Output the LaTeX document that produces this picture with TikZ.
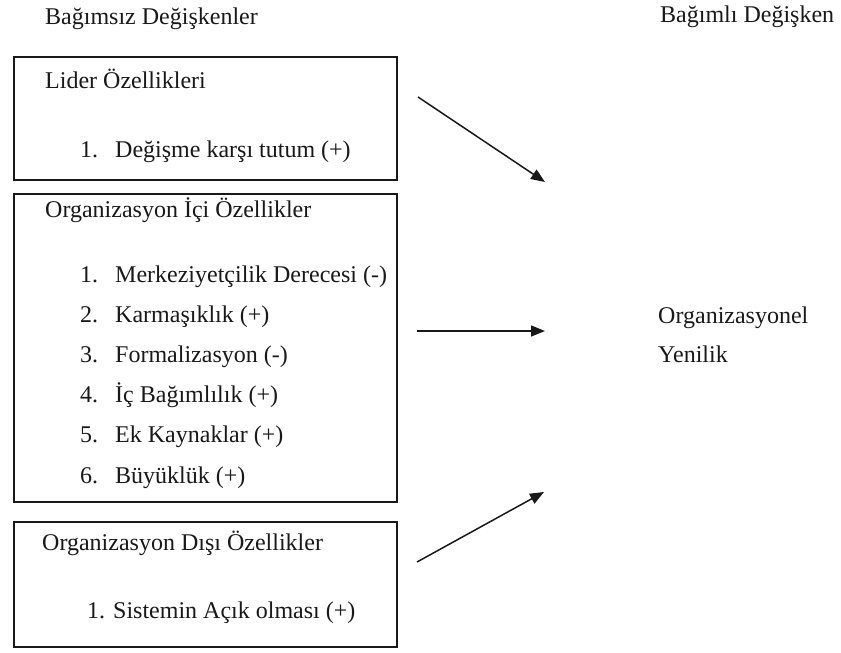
\documentclass[tikz,border=0pt]{standalone}
\usepackage{fontspec}
\setmainfont{Liberation Serif}
\usetikzlibrary{arrows.meta}
\begin{document}
\begin{tikzpicture}[x=1pt,y=-1pt,
  txt/.style={anchor=base west,inner sep=0pt,font=\fontsize{24}{28}\selectfont,text=black!90},
  groupbox/.style={draw=black!90,line width=1.9pt},
  link/.style={line width=1.5pt,draw=black!90,-{Triangle[length=14pt,width=11pt]}}]
  \useasboundingbox[fill=white] (0,0) rectangle (841,653);

  % column headings
  \node[txt] (indep) at (45,24) {Bağımsız Değişkenler};
  \node[txt] (dep) at (660,23) {Bağımlı Değişken};

  % leader characteristics
  \draw[groupbox] (14,57) rectangle (397,180);
  \node[txt] (lider) at (45,88) {Lider Özellikleri};
  \node[txt] (l1n) at (80,157) {1.};
  \node[txt] (l1) at (115,157) {Değişme karşı tutum (+)};

  % internal characteristics
  \draw[groupbox] (14,194) rectangle (397,502);
  \node[txt] (ici) at (45,217) {Organizasyon İçi Özellikler};
  \foreach \n/\t [count=\i] in {1./Merkeziyetçilik Derecesi (-),
      2./Karmaşıklık (+), 3./Formalizasyon (-), 4./İç Bağımlılık (+),
      5./Ek Kaynaklar (+), 6./Büyüklük (+)} {
    \node[txt] (i\i n) at (80,{282+40.2*(\i-1)}) {\n};
    \node[txt] (i\i) at (115,{282+40.2*(\i-1)}) {\t};
  }

  % external characteristics
  \draw[groupbox] (14,522) rectangle (397,647);
  \node[txt] (disi) at (42,550) {Organizasyon Dışı Özellikler};
  \node[txt] (d1n) at (87,618) {1.};
  \node[txt] (d1) at (113,618) {Sistemin Açık olması (+)};

  % dependent variable
  \node[txt] (out1) at (658,323) {Organizasyonel};
  \node[txt] (out2) at (658,362) {Yenilik};

  % arrows
  \coordinate (a1s) at (418,97);  \coordinate (a1e) at (545,182);
  \coordinate (a2s) at (417,331); \coordinate (a2e) at (545,331);
  \coordinate (a3s) at (417,562); \coordinate (a3e) at (544,492);
  \draw[link] (a1s) -- (a1e);
  \draw[link] (a2s) -- (a2e);
  \draw[link] (a3s) -- (a3e);
\end{tikzpicture}
\end{document}
